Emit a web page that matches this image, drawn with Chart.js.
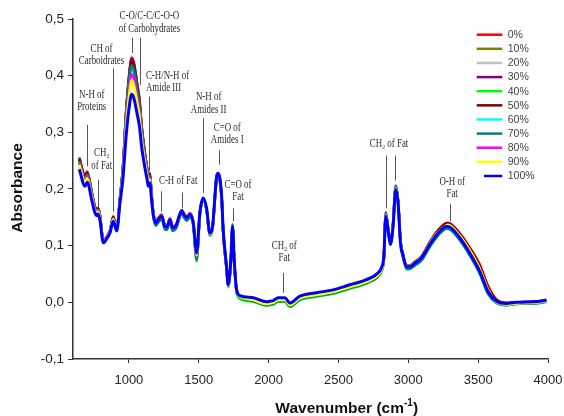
<!DOCTYPE html>
<html><head><meta charset="utf-8">
<script src="https://cdn.jsdelivr.net/npm/chart.js@4.4.0/dist/chart.umd.min.js"></script>
<style>html,body{margin:0;padding:0;background:#fff;}#wrap{width:564px;height:416px;}</style>
</head><body><div id="wrap"><canvas id="c" width="564" height="416"></canvas></div>
<script>
const WAVENUMBERS = [645,686,702,734,757,770,779,793,817,843,865,888,913,
936,958,979,1000,1020,1036,1060,1076,1091,1115,1131,1139,
1151,1161,1174,1192,1208,1234,1258,1272,1294,1314,1337,1378,1394,1413,1437,1461,
1485,1508,1532,1556,1580,1599,1628,1639,1664,1675,1699,1711,1730,1742,1754,1771,1795,
1890,1986,2009,2033,2069,2117,2152,2224,2343,2462,2581,2701,2784,2808,2825,
2839,2855,2872,2891,2910,2927,2944,2963,
2987,3011,3046,3094,3154,3213,3273,3284,3368,3440,3511,3571,
3631,3702,3774,3940,3988];

const S_0 = [0.256,0.225,0.231,0.196,0.170,0.164,0.167,0.154,0.108,0.116,0.127,0.152,0.130,
0.183,0.241,0.332,0.397,0.432,0.423,0.385,0.358,0.313,0.263,0.236,0.221,
0.228,0.195,0.160,0.143,0.148,0.155,0.136,0.135,0.148,0.133,0.137,0.163,0.157,0.151,0.157,0.142,
0.079,0.158,0.182,0.164,0.118,0.132,0.222,0.228,0.187,0.126,0.061,0.029,0.075,0.132,0.073,0.020,0.009,
0.005,-0.002,-0.001,0.000,0.005,0.005,-0.004,0.008,0.014,0.019,0.028,0.037,0.049,0.058,0.081,
0.158,0.132,0.105,0.138,0.205,0.179,0.108,0.083,
0.065,0.065,0.071,0.081,0.106,0.127,0.140,0.140,0.122,0.097,0.067,0.029,
0.005,-0.001,0.000,0.002,0.004];

const S_10 = [0.253,0.222,0.228,0.194,0.168,0.162,0.165,0.153,0.108,0.116,0.127,0.150,0.130,
0.182,0.240,0.330,0.394,0.428,0.419,0.382,0.355,0.310,0.261,0.234,0.220,
0.226,0.194,0.159,0.141,0.146,0.153,0.135,0.134,0.147,0.132,0.136,0.162,0.156,0.150,0.156,0.141,
0.081,0.156,0.182,0.164,0.120,0.132,0.220,0.226,0.185,0.126,0.061,0.029,0.073,0.132,0.073,0.020,0.010,
0.004,-0.003,-0.002,-0.001,0.004,0.004,-0.005,0.007,0.013,0.018,0.027,0.036,0.048,0.057,0.078,
0.155,0.130,0.104,0.137,0.202,0.177,0.107,0.082,
0.064,0.064,0.070,0.080,0.104,0.124,0.136,0.137,0.118,0.092,0.061,0.024,
0.001,-0.003,-0.001,0.001,0.003];

const S_20 = [0.251,0.220,0.226,0.192,0.167,0.161,0.164,0.152,0.107,0.115,0.126,0.149,0.129,
0.182,0.239,0.328,0.391,0.425,0.416,0.379,0.353,0.309,0.260,0.233,0.220,
0.225,0.193,0.155,0.136,0.141,0.148,0.130,0.129,0.142,0.127,0.131,0.157,0.151,0.145,0.151,0.136,
0.077,0.153,0.179,0.161,0.117,0.129,0.217,0.223,0.182,0.123,0.058,0.026,0.070,0.129,0.070,0.017,0.007,
0.003,-0.004,-0.003,-0.002,0.003,0.003,-0.006,0.006,0.012,0.017,0.026,0.035,0.047,0.056,0.077,
0.154,0.129,0.103,0.136,0.201,0.176,0.106,0.080,
0.061,0.061,0.067,0.076,0.100,0.120,0.132,0.132,0.112,0.085,0.053,0.017,
0.000,-0.004,-0.002,0.000,0.002];

const S_30 = [0.254,0.223,0.229,0.194,0.168,0.163,0.166,0.154,0.108,0.116,0.127,0.151,0.130,
0.183,0.240,0.331,0.395,0.430,0.421,0.383,0.357,0.312,0.262,0.235,0.221,
0.227,0.194,0.159,0.140,0.145,0.152,0.134,0.133,0.146,0.131,0.135,0.161,0.155,0.149,0.155,0.140,
0.077,0.156,0.182,0.164,0.120,0.132,0.220,0.226,0.185,0.126,0.061,0.029,0.073,0.132,0.073,0.020,0.010,
0.004,-0.003,-0.002,-0.001,0.004,0.004,-0.005,0.007,0.013,0.018,0.027,0.036,0.048,0.057,0.078,
0.155,0.130,0.104,0.137,0.202,0.177,0.107,0.082,
0.063,0.063,0.069,0.078,0.102,0.122,0.134,0.134,0.114,0.087,0.055,0.019,
0.001,-0.003,-0.001,0.001,0.003];

const S_40 = [0.250,0.219,0.226,0.192,0.166,0.161,0.164,0.152,0.107,0.115,0.126,0.149,0.129,
0.182,0.238,0.326,0.388,0.422,0.413,0.377,0.351,0.307,0.259,0.233,0.219,
0.224,0.192,0.155,0.137,0.142,0.149,0.131,0.130,0.143,0.128,0.132,0.158,0.152,0.146,0.152,0.137,
0.072,0.154,0.180,0.162,0.118,0.130,0.218,0.224,0.183,0.124,0.059,0.027,0.071,0.134,0.071,0.018,0.006,
0.001,-0.006,-0.005,-0.004,0.001,0.001,-0.008,0.004,0.010,0.015,0.024,0.033,0.045,0.054,0.076,
0.154,0.130,0.103,0.136,0.201,0.177,0.106,0.080,
0.059,0.059,0.065,0.074,0.098,0.118,0.130,0.130,0.110,0.083,0.051,0.015,
-0.001,-0.005,-0.003,-0.001,0.001];

const S_50 = [0.252,0.221,0.227,0.193,0.167,0.162,0.165,0.153,0.108,0.116,0.126,0.150,0.129,
0.182,0.239,0.328,0.392,0.426,0.417,0.380,0.354,0.309,0.261,0.234,0.220,
0.226,0.194,0.159,0.141,0.146,0.153,0.135,0.134,0.147,0.132,0.136,0.162,0.156,0.150,0.156,0.141,
0.081,0.156,0.182,0.164,0.120,0.132,0.220,0.226,0.185,0.126,0.061,0.029,0.073,0.132,0.073,0.020,0.010,
0.004,-0.003,-0.002,-0.001,0.004,0.004,-0.005,0.007,0.013,0.018,0.027,0.036,0.048,0.057,0.078,
0.156,0.131,0.105,0.138,0.203,0.178,0.108,0.083,
0.065,0.065,0.071,0.081,0.106,0.127,0.139,0.140,0.121,0.095,0.064,0.027,
0.004,-0.001,0.000,0.002,0.004];

const S_60 = [0.248,0.217,0.224,0.190,0.165,0.160,0.163,0.151,0.107,0.115,0.126,0.148,0.129,
0.180,0.234,0.319,0.380,0.412,0.404,0.368,0.343,0.301,0.255,0.230,0.216,
0.222,0.192,0.158,0.140,0.145,0.152,0.134,0.133,0.146,0.131,0.135,0.161,0.155,0.149,0.155,0.140,
0.079,0.156,0.182,0.164,0.120,0.132,0.220,0.226,0.185,0.126,0.061,0.029,0.073,0.132,0.073,0.020,0.010,
0.004,-0.003,-0.002,-0.001,0.004,0.004,-0.005,0.007,0.013,0.018,0.027,0.036,0.048,0.057,0.078,
0.155,0.130,0.104,0.137,0.202,0.177,0.107,0.082,
0.061,0.061,0.067,0.076,0.100,0.120,0.132,0.132,0.112,0.085,0.053,0.017,
0.001,-0.003,-0.001,0.001,0.003];

const S_70 = [0.247,0.216,0.223,0.189,0.165,0.159,0.162,0.150,0.107,0.115,0.125,0.148,0.128,
0.181,0.236,0.323,0.385,0.418,0.409,0.373,0.348,0.305,0.257,0.231,0.218,
0.223,0.191,0.155,0.135,0.140,0.147,0.129,0.128,0.141,0.126,0.130,0.156,0.150,0.144,0.150,0.135,
0.075,0.155,0.181,0.163,0.119,0.131,0.219,0.225,0.184,0.125,0.060,0.028,0.072,0.138,0.072,0.019,0.009,
0.002,-0.005,-0.004,-0.003,0.002,0.002,-0.007,0.005,0.011,0.016,0.025,0.034,0.046,0.055,0.077,
0.159,0.132,0.106,0.138,0.206,0.179,0.109,0.085,
0.059,0.059,0.065,0.074,0.098,0.118,0.130,0.130,0.110,0.083,0.051,0.015,
-0.001,-0.005,-0.003,-0.001,0.001];

const S_80 = [0.245,0.215,0.221,0.188,0.164,0.158,0.161,0.150,0.107,0.115,0.125,0.147,0.128,
0.179,0.231,0.313,0.371,0.402,0.394,0.360,0.336,0.295,0.251,0.227,0.214,
0.220,0.190,0.157,0.140,0.145,0.152,0.134,0.133,0.146,0.131,0.135,0.161,0.155,0.149,0.155,0.140,
0.081,0.157,0.183,0.165,0.121,0.133,0.221,0.227,0.186,0.127,0.062,0.030,0.074,0.133,0.074,0.021,0.011,
0.005,-0.002,-0.001,0.000,0.005,0.005,-0.004,0.008,0.014,0.019,0.028,0.037,0.049,0.058,0.079,
0.154,0.129,0.103,0.136,0.201,0.176,0.106,0.080,
0.063,0.063,0.069,0.078,0.102,0.122,0.134,0.134,0.114,0.087,0.055,0.019,
0.001,-0.003,-0.001,0.001,0.003];

const S_90 = [0.243,0.213,0.219,0.187,0.162,0.157,0.160,0.149,0.106,0.114,0.125,0.146,0.127,
0.178,0.228,0.306,0.362,0.392,0.384,0.352,0.329,0.290,0.247,0.224,0.211,
0.217,0.189,0.156,0.140,0.145,0.152,0.134,0.133,0.146,0.131,0.135,0.161,0.155,0.149,0.155,0.140,
0.083,0.156,0.182,0.164,0.120,0.132,0.220,0.226,0.185,0.126,0.061,0.029,0.073,0.132,0.073,0.020,0.010,
0.004,-0.003,-0.002,-0.001,0.004,0.004,-0.005,0.007,0.013,0.018,0.027,0.036,0.048,0.057,0.078,
0.154,0.129,0.103,0.136,0.201,0.176,0.106,0.080,
0.064,0.064,0.070,0.079,0.104,0.124,0.136,0.137,0.118,0.092,0.060,0.023,
0.000,-0.004,-0.002,0.000,0.002];

const S_100 = [0.235,0.205,0.212,0.181,0.158,0.153,0.156,0.145,0.105,0.113,0.123,0.143,0.126,
0.175,0.220,0.290,0.340,0.367,0.360,0.331,0.310,0.275,0.237,0.216,0.205,
0.211,0.185,0.155,0.140,0.145,0.152,0.134,0.133,0.146,0.131,0.135,0.161,0.155,0.149,0.155,0.140,
0.087,0.158,0.184,0.166,0.122,0.134,0.222,0.228,0.187,0.128,0.063,0.031,0.075,0.134,0.075,0.022,0.012,
0.008,0.001,0.002,0.003,0.008,0.008,-0.001,0.011,0.017,0.022,0.031,0.040,0.052,0.061,0.081,
0.152,0.128,0.102,0.134,0.199,0.175,0.105,0.081,
0.063,0.063,0.069,0.078,0.102,0.122,0.134,0.134,0.114,0.087,0.055,0.019,
0.002,-0.002,0.000,0.002,0.004];

const SERIES_NAMES = ['0%','10%','20%','30%','40%','50%','60%','70%','80%','90%','100%'];
const SERIES_VALUES = [S_0,S_10,S_20,S_30,S_40,S_50,S_60,S_70,S_80,S_90,S_100];
const SERIES_COLORS = ['#ff0000','#808000','#c0c0c0','#800080','#00ff00','#800000','#00ffff','#008080','#ff00ff','#ffff00','#0000ff'];

const X_TICKS = [1000,1500,2000,2500,3000,3500,4000];
const Y_TICKS = [-0.1,0,0.1,0.2,0.3,0.4,0.5];
const Y_TICK_LABELS = ['-0,1','0,0','0,1','0,2','0,3','0,4','0,5'];

const ANNOTATIONS = [
 {text:['C-O/C-C/C-O-O','of Carbohydrates'], at:[1147,0.505], lines:[[1024,0.467,0.440],[1079,0.467,0.384]]},
 {text:['CH of','Carboidrates'], at:[804,0.447], lines:[[888,0.413,0.160]]},
 {text:['N-H of','Proteins'], at:[734,0.367], lines:[[698,0.313,0.240]]},
 {text:['CH\u2082','of Fat'], at:[806,0.263], lines:[[777,0.216,0.167]]},
 {text:['C-H/N-H of','Amide III'], at:[1122,0.400], align:'left', lines:[[1144,0.363,0.231]]},
 {text:['N-H of','Amides II'], at:[1571,0.362], lines:[[1528,0.325,0.193]]},
 {text:['C=O of','Amides I'], at:[1704,0.308], lines:[[1646,0.268,0.243]]},
 {text:['C=O of','Fat'], at:[1781,0.208], lines:[[1742,0.166,0.143]]},
 {text:['C-H of Fat'], at:[1353,0.215], lines:[[1232,0.196,0.160],[1378,0.194,0.166]]},
 {text:['CH\u2082 of','Fat'], at:[2112,0.100], lines:[[2104,0.052,0.017]]},
 {text:['CH\u2082 of Fat'], at:[2862,0.280], lines:[[2837,0.259,0.166],[2903,0.259,0.215]]},
 {text:['O-H of','Fat'], at:[3314,0.213], lines:[[3302,0.174,0.143]]}
];

const SANS = '"Liberation Sans", Arial, sans-serif';
const SERIF = '"Liberation Serif", "Times New Roman", serif';

const datasets = SERIES_VALUES.map((vals, i) => ({
  label: SERIES_NAMES[i],
  data: WAVENUMBERS.map((w, j) => ({x: w, y: vals[j]})),
  borderColor: SERIES_COLORS[i],
  backgroundColor: SERIES_COLORS[i],
  borderWidth: i === 10 ? 3 : 2.5,
  pointRadius: 0,
  fill: false,
  tension: 0.3,
  cubicInterpolationMode: 'monotone',
  order: 10 - i
}));

const overlay = {
  id: 'overlay',
  afterDraw(chart) {
    const ctx = chart.ctx, xs = chart.scales.x, ys = chart.scales.y;
    ctx.save();
    // annotations
    ctx.strokeStyle = '#555';
    ctx.lineWidth = 1;
    ctx.fillStyle = '#2a2a2a';
    ctx.font = '12px ' + SERIF;
    ctx.textBaseline = 'middle';
    ANNOTATIONS.forEach(a => {
      a.lines.forEach(l => {
        const px = Math.round(xs.getPixelForValue(l[0])) + 0.5;
        ctx.beginPath();
        ctx.moveTo(px, ys.getPixelForValue(l[1]));
        ctx.lineTo(px, ys.getPixelForValue(l[2]));
        ctx.stroke();
      });
      const x0 = xs.getPixelForValue(a.at[0]);
      const y0 = ys.getPixelForValue(a.at[1]);
      a.text.forEach((t, k) => {
        ctx.save();
        ctx.translate(x0, y0 + k * 12.3);
        ctx.scale(0.74, 1);
        ctx.textAlign = a.align || 'center';
        ctx.fillText(t, 0, 0);
        ctx.restore();
      });
    });
    // legend
    ctx.font = '10.5px ' + SANS;
    ctx.textAlign = 'left';
    ctx.textBaseline = 'middle';
    SERIES_NAMES.forEach((n, i) => {
      const y = 34.7 + i * 14.13;
      ctx.strokeStyle = SERIES_COLORS[i];
      ctx.lineWidth = 2.5;
      ctx.beginPath();
      ctx.moveTo(i === 10 ? 484 : 476.7, y);
      ctx.lineTo(502.3, y);
      ctx.stroke();
      ctx.fillStyle = '#444';
      ctx.fillText(n, 507.7, y + 0.5);
    });
    // axis titles
    ctx.fillStyle = '#111';
    ctx.font = 'bold 15.5px ' + SANS;
    ctx.save();
    ctx.translate(17.5, 188);
    ctx.rotate(-Math.PI / 2);
    ctx.textAlign = 'center';
    ctx.textBaseline = 'middle';
    ctx.fillText('Absorbance', 0, 0);
    ctx.restore();
    const t1 = 'Wavenumber (cm', t2 = '-1', t3 = ')';
    const w1 = ctx.measureText(t1).width, w3 = ctx.measureText(t3).width;
    ctx.font = 'bold 10px ' + SANS;
    const w2 = ctx.measureText(t2).width;
    let sx = 346.7 - (w1 + w2 + w3) / 2;
    ctx.textBaseline = 'alphabetic';
    ctx.textAlign = 'left';
    ctx.font = 'bold 15.5px ' + SANS;
    ctx.fillText(t1, sx, 413);
    ctx.font = 'bold 10px ' + SANS;
    ctx.fillText(t2, sx + w1, 406);
    ctx.font = 'bold 15.5px ' + SANS;
    ctx.fillText(t3, sx + w1 + w2, 413);
    ctx.restore();
  }
};

new Chart(document.getElementById('c'), {
  type: 'line',
  data: { datasets },
  plugins: [overlay],
  options: {
    responsive: false,
    animation: false,
    events: [],
    layout: { padding: { left: 0, right: 16, top: 19, bottom: 0 } },
    plugins: { legend: { display: false }, tooltip: { enabled: false } },
    scales: {
      x: {
        type: 'linear', min: 600, max: 4000,
        afterBuildTicks: s => { s.ticks = X_TICKS.map(v => ({ value: v })); },
        afterFit: s => { s.height = 57; s.paddingRight = 0; s.paddingLeft = 0; },
        ticks: { font: { family: SANS, size: 13 }, color: '#222', padding: 10, maxRotation: 0, autoSkip: false,
                 callback: v => String(v) },
        grid: { display: true, drawOnChartArea: false, drawTicks: true, tickLength: 4, color: '#333', lineWidth: 1 },
        border: { display: true, color: '#333', width: 1.5 }
      },
      y: {
        type: 'linear', min: -0.1, max: 0.5,
        afterBuildTicks: s => { s.ticks = Y_TICKS.map(v => ({ value: v })); },
        afterFit: s => { s.width = 73; },
        ticks: { font: { family: SANS, size: 13.5 }, color: '#222', padding: 4, autoSkip: false,
                 callback: v => { let k = 0, best = 1e9; Y_TICKS.forEach((t, i) => { const d = Math.abs(t - v); if (d < best) { best = d; k = i; } }); return Y_TICK_LABELS[k]; } },
        grid: { display: true, drawOnChartArea: false, drawTicks: true, tickLength: 5, color: '#333', lineWidth: 1 },
        border: { display: true, color: '#333', width: 1.5 }
      }
    }
  }
});
</script>
</body></html>
